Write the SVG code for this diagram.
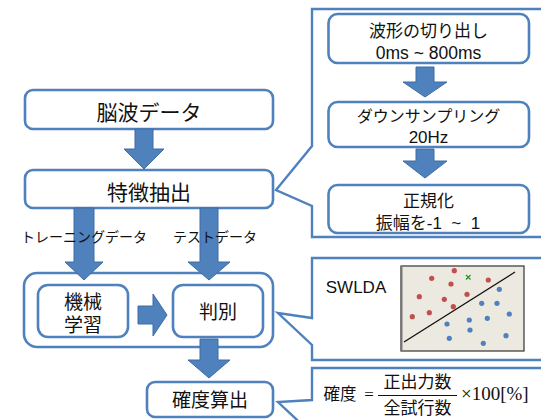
<svg xmlns="http://www.w3.org/2000/svg" width="541" height="420" viewBox="0 0 541 420">
<style>
.box{fill:#fff;stroke:#4F81BD;stroke-width:2.6}
.panel{fill:#fff;stroke:#4F81BD;stroke-width:2.4;stroke-linejoin:miter}
.arr{fill:#4F81BD;stroke:#3D6DA6;stroke-width:1}
.t{font-family:"Liberation Sans","Noto Sans CJK JP",sans-serif;fill:#111;text-anchor:middle}
.red{fill:#C0504D}
.blue{fill:#4F81BD}
</style>
<rect width="541" height="420" fill="#fff"/>

<g id="panel-preprocess">
<path class="panel" d="M545 9 L312 9 L312 146 L276 190 L312 206 L312 237 L545 237"/>
</g>
<g id="panel-swlda">
<path class="panel" d="M545 258 L312 258 L312 318 L278 313 L312 345 L312 360 L545 360"/>
<text class="t" x="356" y="293" font-size="17">SWLDA</text>
<rect x="401" y="266" width="123" height="85" fill="#ECE9E0" stroke="#333" stroke-width="1.2"/>
<line x1="401.5" y1="266" x2="401.5" y2="351" stroke="#777" stroke-width="2"/>
<line x1="404" y1="342" x2="515" y2="272" stroke="#111" stroke-width="1.3"/>
<g class="red">
<circle cx="454.3" cy="270.7" r="2.6"/><circle cx="431.7" cy="278.3" r="2.6"/><circle cx="451" cy="284" r="2.6"/><circle cx="488.3" cy="280" r="2.6"/><circle cx="419.3" cy="296.7" r="2.6"/><circle cx="444.3" cy="299.3" r="2.6"/><circle cx="467" cy="294.3" r="2.6"/><circle cx="453.3" cy="306.7" r="2.6"/><circle cx="429.3" cy="312.7" r="2.6"/><circle cx="412.3" cy="316.7" r="2.6"/>
</g>
<g class="blue">
<circle cx="499.3" cy="289.3" r="2.6"/><circle cx="481.7" cy="303.3" r="2.6"/><circle cx="497" cy="303.3" r="2.6"/><circle cx="509.3" cy="314" r="2.6"/><circle cx="487.3" cy="318.3" r="2.6"/><circle cx="469.3" cy="320" r="2.6"/><circle cx="447" cy="324" r="2.6"/><circle cx="470" cy="330" r="2.6"/><circle cx="449.3" cy="338.3" r="2.6"/><circle cx="506" cy="335.7" r="2.6"/><circle cx="483.3" cy="343.3" r="2.6"/>
</g>
<path d="M466 275 L470.5 279.5 M470.5 275 L466 279.5" stroke="#1A9A1A" stroke-width="1.2"/>
</g>
<g id="panel-formula">
<path class="panel" d="M545 368 L312 368 L312 400 L278 402 L312 434 L312 450"/>
<text class="t" x="340" y="400" font-size="16.5">確度</text>
<text x="369" y="400" font-size="17" font-family="Liberation Serif,serif" text-anchor="middle" fill="#111">=</text>
<text class="t" x="417.5" y="388" font-size="17">正出力数</text>
<line x1="378" y1="395.5" x2="457" y2="395.5" stroke="#111" stroke-width="1"/>
<text class="t" x="417.5" y="414" font-size="17">全試行数</text>
<text x="461" y="400" font-size="19" font-family="Liberation Serif,serif" fill="#111">×100[%]</text>
</g>

<g id="node-cut">
<rect class="box" x="328.5" y="14" width="200.5" height="49" rx="9"/>
<text class="t" x="428.5" y="36.5" font-size="17">波形の切り出し</text>
<text class="t" x="428.5" y="59" font-size="17.5">0ms ~ 800ms</text>
</g>
<g id="node-down">
<rect class="box" x="328.5" y="102" width="200.5" height="45" rx="9"/>
<text class="t" x="428.5" y="121.5" font-size="16">ダウンサンプリング</text>
<text class="t" x="428.5" y="143" font-size="17">20Hz</text>
</g>
<g id="node-norm">
<rect class="box" x="328.5" y="185" width="200.5" height="48" rx="9"/>
<text class="t" x="428.5" y="206.5" font-size="17">正規化</text>
<text class="t" x="428" y="228.5" font-size="17" xml:space="preserve">振幅を-1  ~  1</text>
</g>

<g id="node-eeg">
<rect class="box" x="25" y="90" width="248" height="39" rx="8"/>
<text class="t" x="149" y="120" font-size="21">脳波データ</text>
</g>
<g id="node-feature">
<rect class="box" x="25" y="170" width="248" height="38" rx="8"/>
<text class="t" x="149" y="200" font-size="21">特徴抽出</text>
</g>
<g id="node-classify-group">
<rect class="box" x="24" y="273" width="249" height="74" rx="13"/>
</g>
<g id="node-ml">
<rect class="box" x="38" y="285" width="90" height="52" rx="10"/>
<text class="t" x="83" y="309" font-size="19">機械</text>
<text class="t" x="83" y="332" font-size="19">学習</text>
</g>
<g id="node-judge">
<rect class="box" x="173" y="285" width="90" height="52" rx="10"/>
<text class="t" x="218" y="319" font-size="19">判別</text>
</g>
<g id="node-acc">
<rect class="box" x="147" y="382" width="126" height="35" rx="8"/>
<text class="t" x="210" y="407" font-size="19">確度算出</text>
</g>

<g id="connectors">
<polygon class="arr" points="135,129 153,129 153,149 164,149 144,169 124,149 135,149"/>
<polygon class="arr" points="74,208 94,208 94,262 103,262 84,280 65,262 74,262"/>
<polygon class="arr" points="200,208 218,208 218,262 230,262 209,280 188,262 200,262"/>
<polygon class="arr" points="138,306 153,306 153,294 167,315 153,336 153,324 138,324"/>
<polygon class="arr" points="200,339 218,339 218,360 230,360 209,378 188,360 200,360"/>
<polygon class="arr" points="416,67 434,67 434,82 447,82 425,97 403,82 416,82"/>
<polygon class="arr" points="416,149 434,149 434,161 447,161 425,178 403,161 416,161"/>
<text class="t" x="84" y="242" font-size="14">トレーニングデータ</text>
<text class="t" x="215" y="242" font-size="14">テストデータ</text>
</g>
</svg>
